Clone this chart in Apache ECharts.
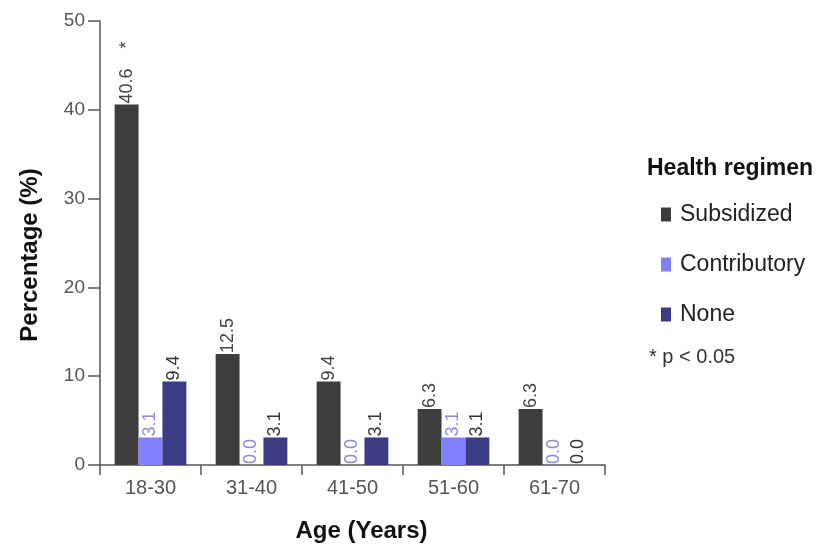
<!DOCTYPE html>
<html><head><meta charset="utf-8">
<script src="https://cdn.jsdelivr.net/npm/echarts@6/dist/echarts.min.js"></script>
<style>html,body{margin:0;padding:0;background:#fff}#c{width:839px;height:544px}</style>
</head><body><div id="c"></div>
<script>
const categories = ['18-30','31-40','41-50','51-60','61-70'];
const subsidized = [40.6, 12.5, 9.4, 6.3, 6.3];
const contributory = [3.1, 0.0, 0.0, 3.1, 0.0];
const none = [9.4, 3.1, 3.1, 3.1, 0.0];
const significance = ['*','','','',''];
const yTicks = [0,10,20,30,40,50];

const FF = '"Liberation Sans", Arial, sans-serif';
const chart = echarts.init(document.getElementById('c'));

function lbl(color, withSig) {
  return {
    show: true, position: 'top', rotate: 90, align: 'left', verticalAlign: 'middle',
    distance: 1, color: color, fontFamily: FF, fontSize: 18,
    formatter: p => p.value.toFixed(1) + (withSig && significance[p.dataIndex] ? '    ' + significance[p.dataIndex] : '')
  };
}

chart.setOption({
  backgroundColor: '#fff',
  animation: false,
  grid: { left: 100, right: 234, top: 21, bottom: 79, outerBoundsMode: 'none' },
  legend: {
    orient: 'vertical', left: 656, top: 198, itemWidth: 10, itemHeight: 14, itemGap: 27,
    icon: 'rect',
    textStyle: { fontFamily: FF, fontSize: 23, color: '#222', padding: [0, 0, 0, 4] },
    data: ['Subsidized','Contributory','None']
  },
  graphic: [
    { type: 'text', left: 647, top: 157, style: { text: 'Health regimen', font: 'bold 23px ' + FF, fill: '#111' } },
    { type: 'text', left: 649, top: 347, style: { text: '* p < 0.05', font: '20px ' + FF, fill: '#333' } }
  ],
  xAxis: {
    type: 'category', data: categories,
    name: 'Age (Years)', nameLocation: 'middle', nameGap: 54,
    nameTextStyle: { fontFamily: FF, fontSize: 24, fontWeight: 'bold', color: '#111', padding: [0, 0, 0, 18] },
    axisLine: { lineStyle: { color: '#555', width: 1.5 } },
    axisTick: { show: true, length: 10, lineStyle: { color: '#555', width: 1.5 } },
    axisLabel: { fontFamily: FF, fontSize: 20, color: '#555', margin: 13 }
  },
  yAxis: {
    type: 'value', min: 0, max: 50, interval: 10,
    name: 'Percentage (%)', nameLocation: 'middle', nameGap: 58,
    nameTextStyle: { fontFamily: FF, fontSize: 24, fontWeight: 'bold', color: '#111', padding: [0, 24, 0, 0] },
    axisLine: { show: true, lineStyle: { color: '#555', width: 1.5 } },
    axisTick: { show: true, length: 12, lineStyle: { color: '#555', width: 1.5 } },
    axisLabel: { fontFamily: FF, fontSize: 19, color: '#555', margin: 15,
      formatter: v => yTicks.includes(v) ? String(v) : '' },
    splitLine: { show: false }
  },
  series: [
    { name: 'Subsidized', type: 'bar', data: subsidized, barGap: '0%', barCategoryGap: '29%',
      itemStyle: { color: '#3d3d3d' }, label: lbl('#444', true) },
    { name: 'Contributory', type: 'bar', data: contributory,
      itemStyle: { color: '#8080ff' }, label: lbl('#8a8ad8', false) },
    { name: 'None', type: 'bar', data: none,
      itemStyle: { color: '#3c3c84' }, label: lbl('#333', false) }
  ]
});
</script></body></html>
